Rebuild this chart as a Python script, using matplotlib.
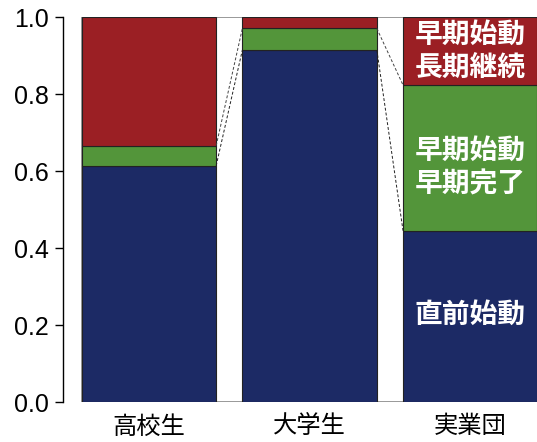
import matplotlib
matplotlib.use("Agg")
import matplotlib.pyplot as plt
from matplotlib.patches import Rectangle

plt.rcParams['font.family'] = ['Noto Sans CJK JP', 'DejaVu Sans']

categories = ['高校生', '大学生', '実業団']
navy_vals = [0.6145, 0.915, 0.4457]      # 直前始動
green_vals = [0.052, 0.056, 0.3783]      # 早期始動 早期完了
red_vals = [0.3335, 0.029, 0.176]        # 早期始動 長期継続
yticks = [0.0, 0.2, 0.4, 0.6, 0.8, 1.0]
seg_labels = ['直前始動', '早期始動\n早期完了', '早期始動\n長期継続']

c_navy = '#1c2a65'
c_green = '#53953a'
c_red = '#9b1f24'

fig = plt.figure(figsize=(5.37, 4.42), dpi=100)
ax = fig.add_axes([63/537, 1-402.3/442, 1-63/537, (402.3-17.3)/442])

x = list(range(len(categories)))
w = 0.837

# background frame
ax.add_patch(Rectangle((x[0]-w/2, 0), x[-1]-x[0]+w, 1.0, facecolor='white',
                       edgecolor='#888888', linewidth=1.2, zorder=0))

bottoms2 = [a for a in navy_vals]
bottoms3 = [a+b for a, b in zip(navy_vals, green_vals)]
ax.bar(x, navy_vals, width=w, color=c_navy, edgecolor='#222222', linewidth=0.8, zorder=2)
ax.bar(x, green_vals, width=w, bottom=bottoms2, color=c_green, edgecolor='#222222', linewidth=0.8, zorder=2)
ax.bar(x, red_vals, width=w, bottom=bottoms3, color=c_red, edgecolor='#222222', linewidth=0.8, zorder=2)

# connecting lines
for i in range(len(x)-1):
    for b_list, style, col in [(bottoms2, (0, (3, 2)), '#222222'), (bottoms3, (0, (3, 2)), '#444444')]:
        ax.plot([x[i]+w/2, x[i+1]-w/2], [b_list[i], b_list[i+1]], linestyle=style,
                color=col, linewidth=0.7, zorder=3)

# labels on last bar
j = len(x)-1
mids = [navy_vals[j]/2 + 0.005, bottoms2[j]+green_vals[j]/2 - 0.025, bottoms3[j]+red_vals[j]/2]
for lab, m in zip(seg_labels, mids):
    ax.text(x[j], m, lab, ha='center', va='center', color='white', fontsize=20,
            fontweight='bold', linespacing=1.25, zorder=4)

ax.set_xlim(x[0]-w/2-18.7/160.7, x[-1]+w/2-0.5/160.7)
ax.set_ylim(0, 1.0)
ax.set_xticks(x)
ax.set_xticklabels(categories, fontsize=17.5)
ax.set_yticks(yticks)
ax.set_yticklabels([f'{v:.1f}' for v in yticks], fontsize=18, family=['Liberation Sans', 'DejaVu Sans'])
ax.tick_params(axis='x', length=0, pad=8)
ax.tick_params(axis='y', length=6, width=1.0, pad=4)
for s in ['top', 'right', 'bottom']:
    ax.spines[s].set_visible(False)
ax.spines['left'].set_linewidth(1.0)

fig.savefig('out.png', dpi=100)
